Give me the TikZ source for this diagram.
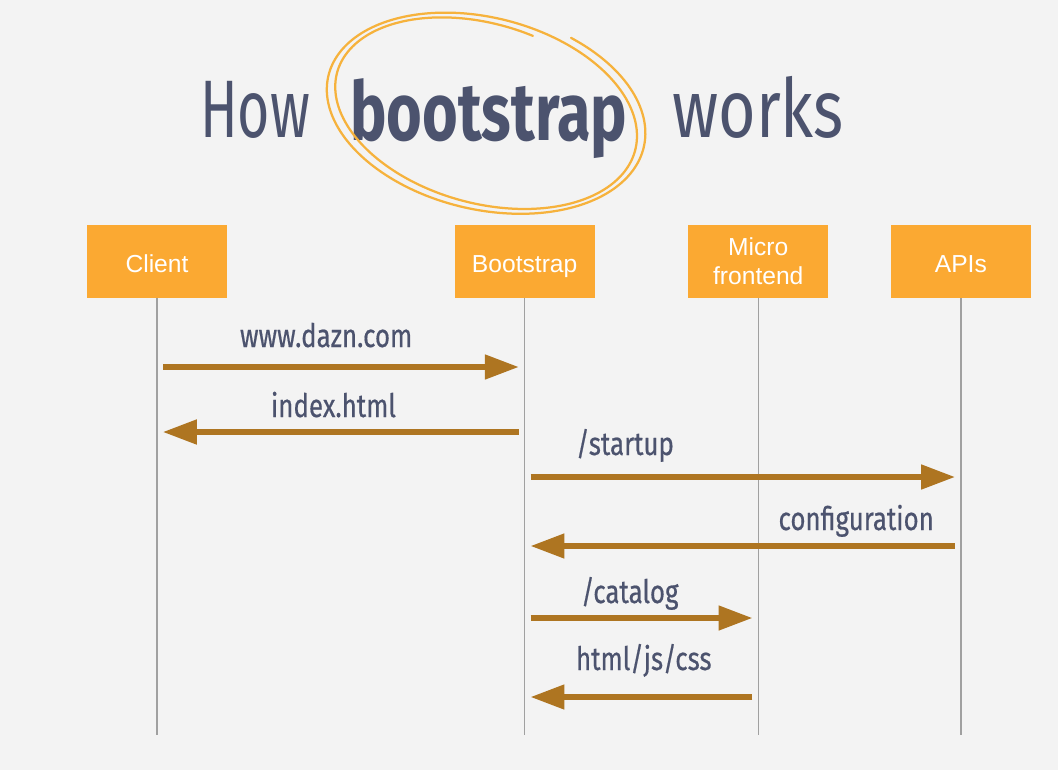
\documentclass[tikz,border=0pt]{standalone}
\usepackage{fontspec}
\usepackage{graphicx}
\setmainfont{Liberation Sans}
\newfontfamily\handfont[FakeBold=0.6]{Fira Sans}
\newfontfamily\headfont{Fira Sans}
\usetikzlibrary{arrows.meta,positioning,calc}

\definecolor{paper}{RGB}{243,243,243}
\definecolor{boxorange}{RGB}{251,169,50}
\definecolor{arrowbrown}{RGB}{174,117,33}
\definecolor{ink}{RGB}{76,83,110}
\definecolor{loopyellow}{RGB}{246,178,60}
\definecolor{lifegray}{RGB}{160,160,160}

% smal handgeschreven tekst
\newcommand{\narrow}[2]{\scalebox{#1}[1]{#2}}

\tikzset{
  actor/.style={fill=boxorange, text=white, minimum width=3.5cm, minimum height=1.825cm,
    inner sep=0pt, font=\fontsize{17.5}{20.5}\selectfont},
  oneline/.style={text height=16pt, text depth=1pt},
  lifeline/.style={draw=lifegray, line width=1pt},
  msg/.style={draw=arrowbrown, line width=3.6pt, -{Triangle[length=24pt,width=17pt]},
    shorten <=0.15cm, shorten >=0.15cm},
  lbl/.style={text=ink, inner sep=0pt, anchor=base, font=\fontsize{23}{26}\handfont},
  headline/.style={text=ink, inner sep=0pt, anchor=base west, font=\fontsize{58}{60}\headfont},
}

\begin{document}
\begin{tikzpicture}[x=0.025cm, y=-0.025cm]
  % Papier
  \fill[paper] (0,0) rectangle (1058,770);
  \useasboundingbox (0,0) rectangle (1058,770);

  % Titel
  \node[headline] (how) at (200,137) {\narrow{0.68}{How}};
  \node[headline, font=\fontsize{58}{60}\headfont\bfseries] (bsword) at (350,140) {\narrow{0.75}{bootstrap}};
  \node[headline] (works) at (672,137) {\narrow{0.79}{works}};

  % Krabbel rond het woord
  \draw[loopyellow, line width=1.6pt, line cap=round]
    plot[domain=-65:640, samples=160, smooth]
    ({484 + (165-15*(\x+65)/705)*cos(\x)*cos(12+4*(\x+65)/705) - (100-12*(\x+65)/705)*sin(\x)*sin(12+4*(\x+65)/705)},
     {112 + (165-15*(\x+65)/705)*cos(\x)*sin(12+4*(\x+65)/705) + (100-12*(\x+65)/705)*sin(\x)*cos(12+4*(\x+65)/705)});

  % Deelnemers
  \node[actor, oneline] (client) at (157,261.5) {Client};
  \node[actor, oneline, right=5.675cm of client] (boot) {Bootstrap};
  \node[actor, align=center, right=2.325cm of boot] (micro) {Micro\\frontend};
  \node[actor, oneline, right=1.55cm of micro] (apis) {APIs};

  % Levenslijnen
  \foreach \p in {client,boot,micro,apis}
    \draw[lifeline] (\p) -- (\p |- 0,735);

  % Berichten
  \draw[msg] (client |- 0,367) -- (boot |- 0,367)
    node[lbl, pos=0.46, yshift=0.5cm] {\narrow{0.8}{www.dazn.com}};
  \draw[msg] (boot |- 0,432) -- (client |- 0,432)
    node[lbl, pos=0.52, yshift=0.375cm] {\narrow{0.8}{index.html}};
  \draw[msg] (boot |- 0,477) -- (apis |- 0,477)
    node[lbl, pos=0.23, yshift=0.55cm] {\narrow{0.8}{/startup}};
  \draw[msg] (apis |- 0,546) -- (boot |- 0,546)
    node[lbl, pos=0.24, yshift=0.4cm] {\narrow{0.8}{configuration}};
  \draw[msg] (boot |- 0,618) -- (micro |- 0,618)
    node[lbl, pos=0.45, yshift=0.375cm] {\narrow{0.8}{/catalog}};
  \draw[msg] (micro |- 0,697) -- (boot |- 0,697)
    node[lbl, pos=0.49, yshift=0.675cm] {\narrow{0.8}{html/js/css}};
\end{tikzpicture}
\end{document}
